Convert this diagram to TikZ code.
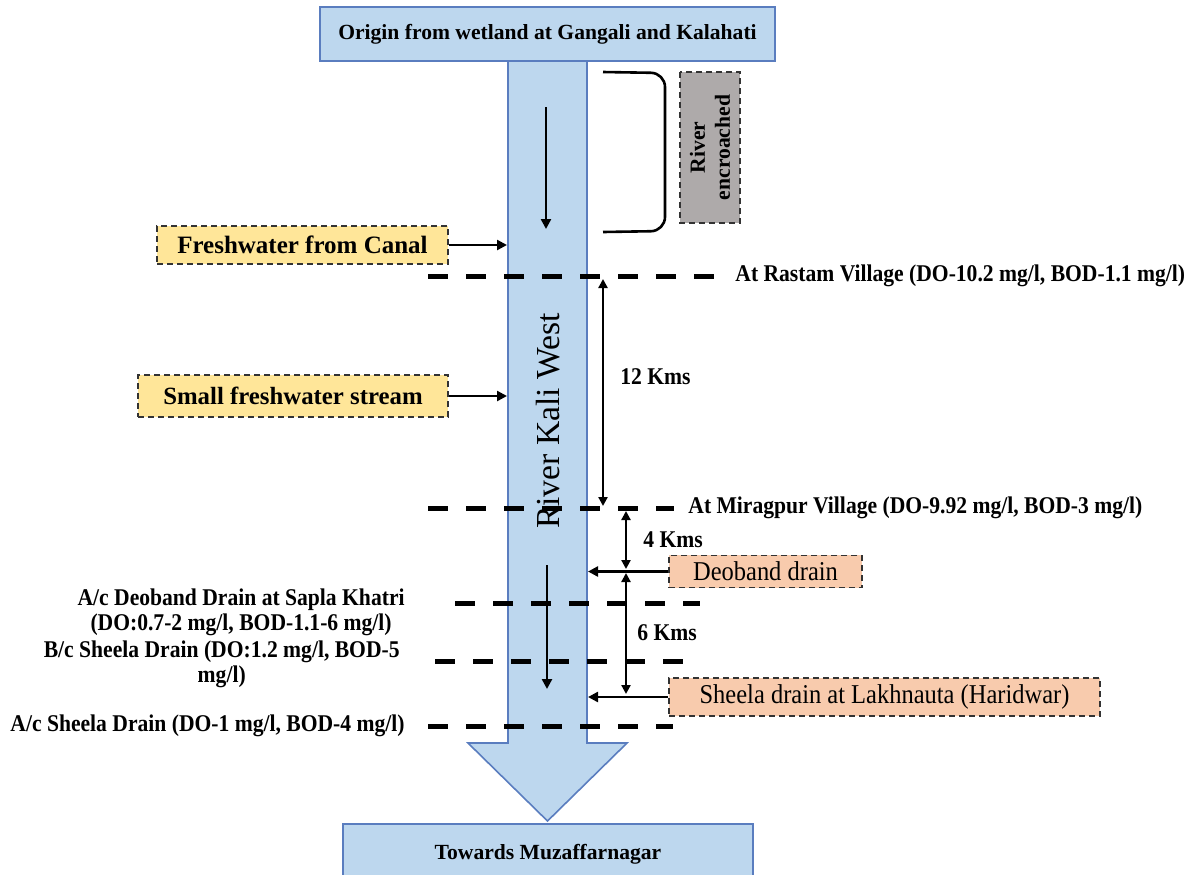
\documentclass[tikz,border=0pt]{standalone}
\usepackage{fontspec}
\setmainfont{Liberation Serif}
\newfontfamily\narrowserif[FakeStretch=0.9]{Liberation Serif}
\usetikzlibrary{arrows.meta}

\definecolor{riverblue}{HTML}{BDD7EE}
\definecolor{riveredge}{HTML}{5A7DBF}
\definecolor{inflowyellow}{HTML}{FFE699}
\definecolor{drainpeach}{HTML}{F8CBAD}
\definecolor{encroachgray}{HTML}{AEAAAA}

\tikzset{
  riverbody/.style={draw=riveredge, fill=riverblue, line width=0.8pt},
  endbox/.style={draw=riveredge, fill=riverblue, line width=0.8pt, font=\bfseries\fontsize{10.8}{13}\selectfont},
  inflow/.style={draw=black!80, fill=inflowyellow, densely dashed, line width=0.6pt, font=\bfseries\fontsize{12.5}{14}\selectfont},
  drain/.style={draw=black!80, fill=drainpeach, densely dashed, line width=0.6pt, font=\narrowserif\fontsize{13.6}{16}\selectfont},
  encroach/.style={draw=black!80, fill=encroachgray, densely dashed, line width=0.6pt, align=center, font=\bfseries\fontsize{10.8}{12.5}\selectfont},
  site/.style={inner sep=2pt, font=\narrowserif\bfseries\fontsize{12}{12.5}\selectfont},
  km/.style={inner sep=0pt, font=\narrowserif\bfseries\fontsize{12}{12.5}\selectfont},
  sitedash/.style={line width=2.5pt, dash pattern=on 10pt off 9pt},
  flow/.style={line width=1.2pt, -{Triangle[length=5pt,width=5pt]}},
  dim/.style={line width=1.1pt, {Triangle[length=4.5pt,width=4.5pt]}-{Triangle[length=4.5pt,width=4.5pt]}}
}

\begin{document}
\begin{tikzpicture}[x=0.5pt,y=-0.5pt]
\path [use as bounding box, clip] (0,0) rectangle (1193,874);

%river body with arrow head
\draw [riverbody] (508,61) -- (508,743) -- (468,743) -- (547.5,821) -- (627,743) -- (587,743) -- (587,61) -- cycle;
\coordinate (rivL) at (507,0);
\coordinate (rivR) at (588,0);
\coordinate (siteL) at (428,0);

\node [endbox, minimum width=227.5pt, minimum height=27pt] (origin) at (547.5,34) {Origin from wetland at Gangali and Kalahati};
\node [endbox, anchor=north, minimum width=205pt, text height=8pt, text depth=20pt, inner ysep=10pt] (towards) at (548,823) {Towards Muzaffarnagar};

%flow direction inside the river
\coordinate (flowAtop) at (546,107);
\coordinate (flowAbot) at (546,229);
\draw [flow] (flowAtop) -- (flowAbot);
\coordinate (flowBtop) at (547,565);
\coordinate (flowBbot) at (547,689);
\draw [flow] (flowBtop) -- (flowBbot);

%encroached stretch
\draw [line width=1.3pt, rounded corners=7pt] (603,72) -- (665,73) -- (665,231) -- (603,232);
\node [encroach, rotate=90, minimum width=75.5pt, minimum height=30pt] (encr) at (710,147.5) {River\\encroached};

%fresh water inflows
\node [inflow, minimum width=145.5pt, minimum height=19pt] (canal) at (302.5,245) {Freshwater from Canal};
\node [inflow, minimum width=155pt, minimum height=21pt, font=\bfseries\fontsize{12.4}{14}\selectfont] (stream) at (293,396) {Small freshwater stream};
\draw [flow] (canal.east) -- (canal.east -| rivL);
\draw [flow] (stream.east) -- (stream.east -| rivL);

%sampling sites
\node [site, anchor=west] (rastam) at (731,276) {At Rastam Village (DO-10.2 mg/l, BOD-1.1 mg/l)};
\draw [sitedash] (siteL |- rastam.west) -- ([xshift=-8.5pt]rastam.west);
\node [site, anchor=west] (miragpur) at (684,508) {At Miragpur Village (DO-9.92 mg/l, BOD-3 mg/l)};
\draw [sitedash] (siteL |- miragpur.west) -- ([xshift=-5pt]miragpur.west);
\node [site, anchor=east, align=center] (sapla) at (409,612) {A/c Deoband Drain at Sapla Khatri\\(DO:0.7-2 mg/l, BOD-1.1-6 mg/l)};
\draw [sitedash] (455,603) -- (700,603);
\node [site, anchor=east, align=center] (bcsheela) at (404,664) {B/c Sheela Drain (DO:1.2 mg/l, BOD-5\\mg/l)};
\draw [sitedash] (435,661) -- (685,661);
\node [site, anchor=east] (acsheela) at (409,726) {A/c Sheela Drain (DO-1 mg/l, BOD-4 mg/l)};
\draw [sitedash] (siteL |- acsheela.east) -- (673,726);

\node [rotate=90, font=\fontsize{16.8}{18}\selectfont] (kali) at (548,421) {River Kali West};

%distances
\draw [dim] (603,279) -- (603,506);
\node [km, anchor=west] (dist12) at (620,377) {12 Kms};
\draw [dim] (626,511) -- (626,569);
\node [km, anchor=west] (dist4) at (643,540) {4 Kms};
\draw [dim] (626,573) -- (626,694);
\node [km, anchor=west] (dist6) at (637,633) {6 Kms};

%drains
\node [drain, minimum width=96.5pt, minimum height=15.5pt] (deoband) at (765.5,571.5) {Deoband drain};
\node [drain, minimum width=215.5pt, minimum height=19pt] (sheela) at (884.5,697) {Sheela drain at Lakhnauta (Haridwar)};
\draw [flow] (deoband.west) -- (deoband.west -| rivR);
\draw [flow] (sheela.west) -- (sheela.west -| rivR);

\end{tikzpicture}
\end{document}
